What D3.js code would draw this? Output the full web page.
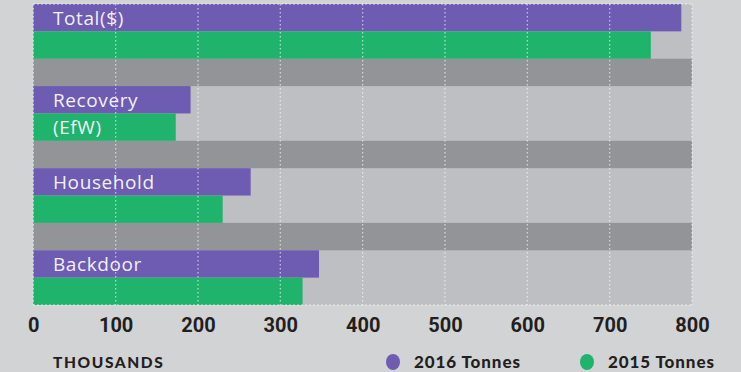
<!DOCTYPE html>
<html>
<head>
<meta charset="utf-8">
<script src="https://cdn.jsdelivr.net/npm/d3@7"></script>
<style>
  html, body { margin: 0; padding: 0; background: #d2d3d5; }
  svg { display: block; }
</style>
</head>
<body>
<svg id="chart" width="741" height="372"></svg>
<script>
// Waste tonnage by stream (thousands)
const categories = ["Total($)", "Recovery", "Household", "Backdoor"];
const series = ["2016 Tonnes", "2015 Tonnes"];
const values2016 = [787, 191, 264, 347];
const values2015 = [750, 173, 230, 327];
const tickValues = [0, 100, 200, 300, 400, 500, 600, 700, 800];
// second line of a category label, written inside the 2015 bar
const subLabels = ["", "(EfW)", "", ""];

const colors = { "2016 Tonnes": "#6e5bb2", "2015 Tonnes": "#20b36b" };

const svg = d3.select("#chart");
const plotLeft = 33.3, plotRight = 692, plotTop = 4, plotBottom = 305;

const x = d3.scaleLinear().domain([0, 800]).range([plotLeft, plotRight]);
const y = d3.scaleBand().domain(categories).range([plotTop, plotBottom])
  .paddingInner(1 / 3).paddingOuter(0);
const ySub = d3.scaleBand().domain(series).range([0, y.bandwidth()]);

// plot background
svg.append("rect")
  .attr("x", plotLeft).attr("y", plotTop)
  .attr("width", plotRight - plotLeft).attr("height", plotBottom - plotTop)
  .attr("fill", "#bebfc2");

// darker separator bands between categories
svg.append("g").selectAll("rect")
  .data(categories.slice(1))
  .join("rect")
  .attr("x", plotLeft)
  .attr("width", plotRight - plotLeft)
  .attr("y", d => y(d) - y.step() * y.paddingInner())
  .attr("height", y.step() * y.paddingInner())
  .attr("fill", "#939497");

// bars
const rows = categories.map((c, i) => ({
  cat: c, sub: subLabels[i],
  bars: [
    { key: "2016 Tonnes", value: values2016[i] },
    { key: "2015 Tonnes", value: values2015[i] }
  ]
}));

const groups = svg.append("g").selectAll("g")
  .data(rows)
  .join("g")
  .attr("transform", d => `translate(0,${y(d.cat)})`);

groups.selectAll("rect")
  .data(d => d.bars)
  .join("rect")
  .attr("x", x(0))
  .attr("y", d => ySub(d.key))
  .attr("width", d => x(d.value) - x(0))
  .attr("height", ySub.bandwidth())
  .attr("fill", d => colors[d.key]);

// dotted grid lines and frame
const grid = svg.append("g")
  .attr("stroke", "#ffffff")
  .attr("stroke-width", 1.3)
  .attr("stroke-dasharray", "1.5,2.5")
  .attr("stroke-opacity", 0.6)
  .attr("fill", "none");

grid.selectAll("line.v")
  .data(tickValues)
  .join("line")
  .attr("x1", d => x(d)).attr("x2", d => x(d))
  .attr("y1", plotTop).attr("y2", plotBottom);

grid.append("line")
  .attr("x1", plotLeft).attr("x2", plotRight).attr("y1", plotTop).attr("y2", plotTop);
grid.append("line")
  .attr("x1", plotLeft).attr("x2", plotRight).attr("y1", plotBottom).attr("y2", plotBottom);

// category labels inside the bars
const labelFont = "'Open Sans', sans-serif";
const labelSize = 19;
groups.append("text")
  .attr("x", 53)
  .attr("y", ySub("2016 Tonnes") + ySub.bandwidth() / 2)
  .attr("dy", "0.36em")
  .attr("font-family", labelFont)
  .attr("font-size", labelSize)
  .attr("letter-spacing", 0.6)
  .attr("fill", "#f2f0f8")
  .text(d => d.cat);

groups.filter(d => d.sub).append("text")
  .attr("x", 53)
  .attr("y", ySub("2015 Tonnes") + ySub.bandwidth() / 2)
  .attr("dy", "0.36em")
  .attr("font-family", labelFont)
  .attr("font-size", labelSize)
  .attr("letter-spacing", 0.6)
  .attr("fill", "#f2f0f8")
  .text(d => d.sub);

// x axis
const axis = svg.append("g")
  .attr("transform", `translate(0,${plotBottom})`)
  .call(d3.axisBottom(x).tickValues(tickValues).tickSize(0).tickPadding(13));
axis.select(".domain").remove();
axis.selectAll("text")
  .attr("font-family", "Roboto, sans-serif")
  .attr("font-weight", 700)
  .attr("font-size", 20)
  .attr("fill", "#231f20");

// unit label
svg.append("text")
  .attr("x", 53).attr("y", 368)
  .attr("font-family", "Lato, sans-serif")
  .attr("font-weight", 900)
  .attr("font-size", 15.5)
  .attr("letter-spacing", 1.6)
  .attr("fill", "#231f20")
  .text("THOUSANDS");

// legend
const legendPos = [393, 587];
const legend = svg.append("g").selectAll("g")
  .data(series)
  .join("g")
  .attr("transform", (d, i) => `translate(${legendPos[i]},362)`);

legend.append("ellipse")
  .attr("rx", 7).attr("ry", 8)
  .attr("fill", d => colors[d]);

legend.append("text")
  .attr("x", 21).attr("y", 6)
  .attr("font-family", "Lato, sans-serif")
  .attr("font-weight", 900)
  .attr("font-size", 17)
  .attr("letter-spacing", 0.9)
  .attr("fill", "#231f20")
  .text(d => d);
</script>
</body>
</html>
